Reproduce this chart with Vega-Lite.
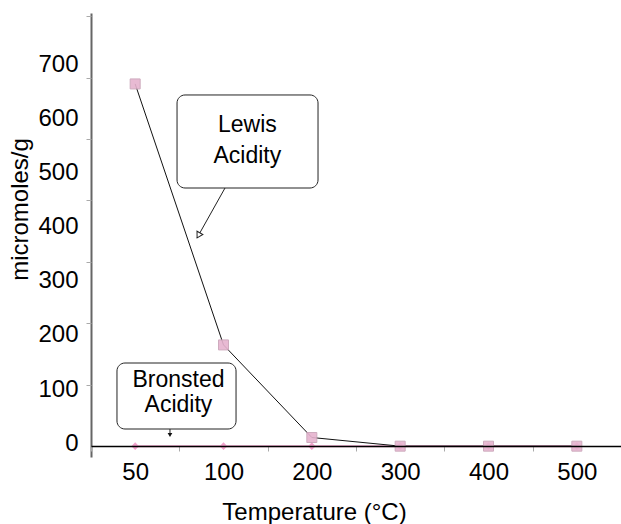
{
  "$schema": "https://vega.github.io/schema/vega-lite/v6.json",
  "autosize": "none",
  "width": 530,
  "height": 444,
  "padding": {"left": 91, "top": 13, "right": 0, "bottom": 67},
  "background": "white",
  "config": {
    "view": {"stroke": null},
    "font": "Liberation Sans"
  },
  "datasets": {
    "acidity": [
      {"temp": "50", "series": "Bronsted", "value": 0},
      {"temp": "100", "series": "Bronsted", "value": 0},
      {"temp": "200", "series": "Bronsted", "value": 0},
      {"temp": "300", "series": "Bronsted", "value": 0},
      {"temp": "400", "series": "Bronsted", "value": 0},
      {"temp": "500", "series": "Bronsted", "value": 0},
      {"temp": "50", "series": "Lewis", "value": 669},
      {"temp": "100", "series": "Lewis", "value": 187},
      {"temp": "200", "series": "Lewis", "value": 16},
      {"temp": "300", "series": "Lewis", "value": 0},
      {"temp": "400", "series": "Lewis", "value": 0},
      {"temp": "500", "series": "Lewis", "value": 0}
    ],
    "boxes": [
      {"name": "Lewis", "x0": 0.974, "x1": 2.57, "y0": 476.8, "y1": 648.6},
      {"name": "Bronsted", "x0": 0.294, "x1": 1.642, "y0": 31.7, "y1": 153.6}
    ],
    "texts": [
      {"text": "Lewis", "ax": 1.77, "v": 593},
      {"text": "Acidity", "ax": 1.77, "v": 536},
      {"text": "Bronsted", "ax": 0.99, "v": 122},
      {"text": "Acidity", "ax": 0.99, "v": 76}
    ],
    "pointers": [
      {"name": "Lewis", "x0": 1.517, "y0": 476.8, "x1": 1.2, "y1": 384.5},
      {"name": "Bronsted", "x0": 0.894, "y0": 31.7, "x1": 0.894, "y1": 22}
    ],
    "heads": [
      {"name": "Lewis", "ax": 1.2226, "v": 390.9, "kind": "open"},
      {"name": "Bronsted", "ax": 0.894, "v": 20.6, "kind": "solid"}
    ]
  },
  "layer": [
    {
      "encoding": {
        "x": {
          "field": "temp",
          "type": "ordinal",
          "sort": ["50", "100", "200", "300", "400", "500"],
          "scale": {"type": "band", "paddingInner": 0, "paddingOuter": 0},
          "axis": {
            "title": "Temperature (°C)",
            "offset": -11,
            "zindex": 1,
            "domainColor": "#000000",
            "domainWidth": 1.5,
            "tickBand": "extent",
            "tickColor": "#aaaaaa",
            "tickSize": 5,
            "labelAngle": 0,
            "labelFontSize": 24,
            "labelColor": "#000000",
            "labelPadding": 9,
            "titleFontSize": 24,
            "titleFontWeight": "normal",
            "titleColor": "#000000",
            "titleX": 223,
            "titleY": 73,
            "titleAlign": "center",
            "titleBaseline": "alphabetic"
          }
        },
        "y": {
          "field": "value",
          "type": "quantitative",
          "scale": {"domain": [-20, 800], "nice": false, "zero": false},
          "axis": {
            "orient": "left",
            "title": "micromoles/g",
            "values": [0, 100, 200, 300, 400, 500, 600, 700],
            "grid": false,
            "ticks": false,
            "domainColor": "#666666",
            "domainWidth": 2,
            "labelFontSize": 24,
            "labelColor": "#000000",
            "labelPadding": 13,
            "labelOffset": -3,
            "titleFontSize": 24,
            "titleFontWeight": "normal",
            "titleColor": "#000000",
            "titleX": -64,
            "titleY": 196,
            "titleAngle": -90,
            "titleAlign": "center",
            "titleBaseline": "alphabetic"
          }
        }
      },
      "layer": [
        {
          "data": {"name": "acidity"},
          "transform": [{"filter": "datum.series == 'Bronsted'"}],
          "mark": {"type": "line", "color": "#f2a2cc", "strokeWidth": 2, "point": {"shape": "diamond", "size": 60, "filled": true, "color": "#f2a2cc"}}
        },
        {
          "data": {"name": "acidity"},
          "transform": [{"filter": "datum.series == 'Lewis'"}],
          "mark": {"type": "line", "color": "#111111", "strokeWidth": 1}
        },
        {
          "data": {"name": "acidity"},
          "transform": [{"filter": "datum.series == 'Lewis'"}],
          "mark": {"type": "point", "shape": "square", "size": 100, "filled": true, "fill": "#e6b3cf", "stroke": "#c9a3b8", "strokeWidth": 1, "opacity": 0.9}
        }
      ]
    },
    {
      "encoding": {
        "y": {
          "field": "v",
          "type": "quantitative",
          "axis": {
            "orient": "left",
            "values": [112.9, 227.5, 340.1, 454.6, 567.3, 680, 794.5],
            "labels": false,
            "domain": false,
            "grid": false,
            "title": null,
            "ticks": true,
            "tickColor": "#aaaaaa",
            "tickSize": 5,
            "tickOffset": 0
          }
        }
      },
      "layer": [
        {
          "data": {"name": "pointers"},
          "mark": {"type": "rule", "color": "#222222", "strokeWidth": 1},
          "encoding": {
            "x": {"field": "x0", "type": "quantitative", "scale": {"domain": [0, 6], "nice": false, "zero": false}, "axis": null},
            "x2": {"field": "x1"},
            "y": {"field": "y0", "type": "quantitative"},
            "y2": {"field": "y1"}
          }
        },
        {
          "data": {"name": "heads"},
          "transform": [{"filter": "datum.kind == 'open'"}],
          "mark": {"type": "point", "shape": "triangle", "size": 45, "filled": true, "fill": "white", "stroke": "#222222", "strokeWidth": 1, "opacity": 1, "angle": 209},
          "encoding": {
            "x": {"field": "ax", "type": "quantitative", "scale": {"domain": [0, 6], "nice": false, "zero": false}, "axis": null}
          }
        },
        {
          "data": {"name": "heads"},
          "transform": [{"filter": "datum.kind == 'solid'"}],
          "mark": {"type": "point", "shape": "triangle-down", "size": 22, "filled": true, "color": "#111111", "opacity": 1},
          "encoding": {
            "x": {"field": "ax", "type": "quantitative", "scale": {"domain": [0, 6], "nice": false, "zero": false}, "axis": null}
          }
        },
        {
          "data": {"name": "boxes"},
          "mark": {"type": "rect", "fill": "white", "stroke": "#222222", "strokeWidth": 1, "cornerRadius": 8},
          "encoding": {
            "x": {"field": "x0", "type": "quantitative", "scale": {"domain": [0, 6], "nice": false, "zero": false}, "axis": null},
            "x2": {"field": "x1"},
            "y": {"field": "y0", "type": "quantitative"},
            "y2": {"field": "y1"}
          }
        },
        {
          "data": {"name": "texts"},
          "mark": {"type": "text", "fontSize": 23, "color": "#000000", "align": "center", "baseline": "middle"},
          "encoding": {
            "x": {"field": "ax", "type": "quantitative", "scale": {"domain": [0, 6], "nice": false, "zero": false}, "axis": null},
            "text": {"field": "text"}
          }
        }
      ]
    }
  ],
  "resolve": {"scale": {"x": "independent"}, "axis": {"x": "independent", "y": "independent"}}
}
